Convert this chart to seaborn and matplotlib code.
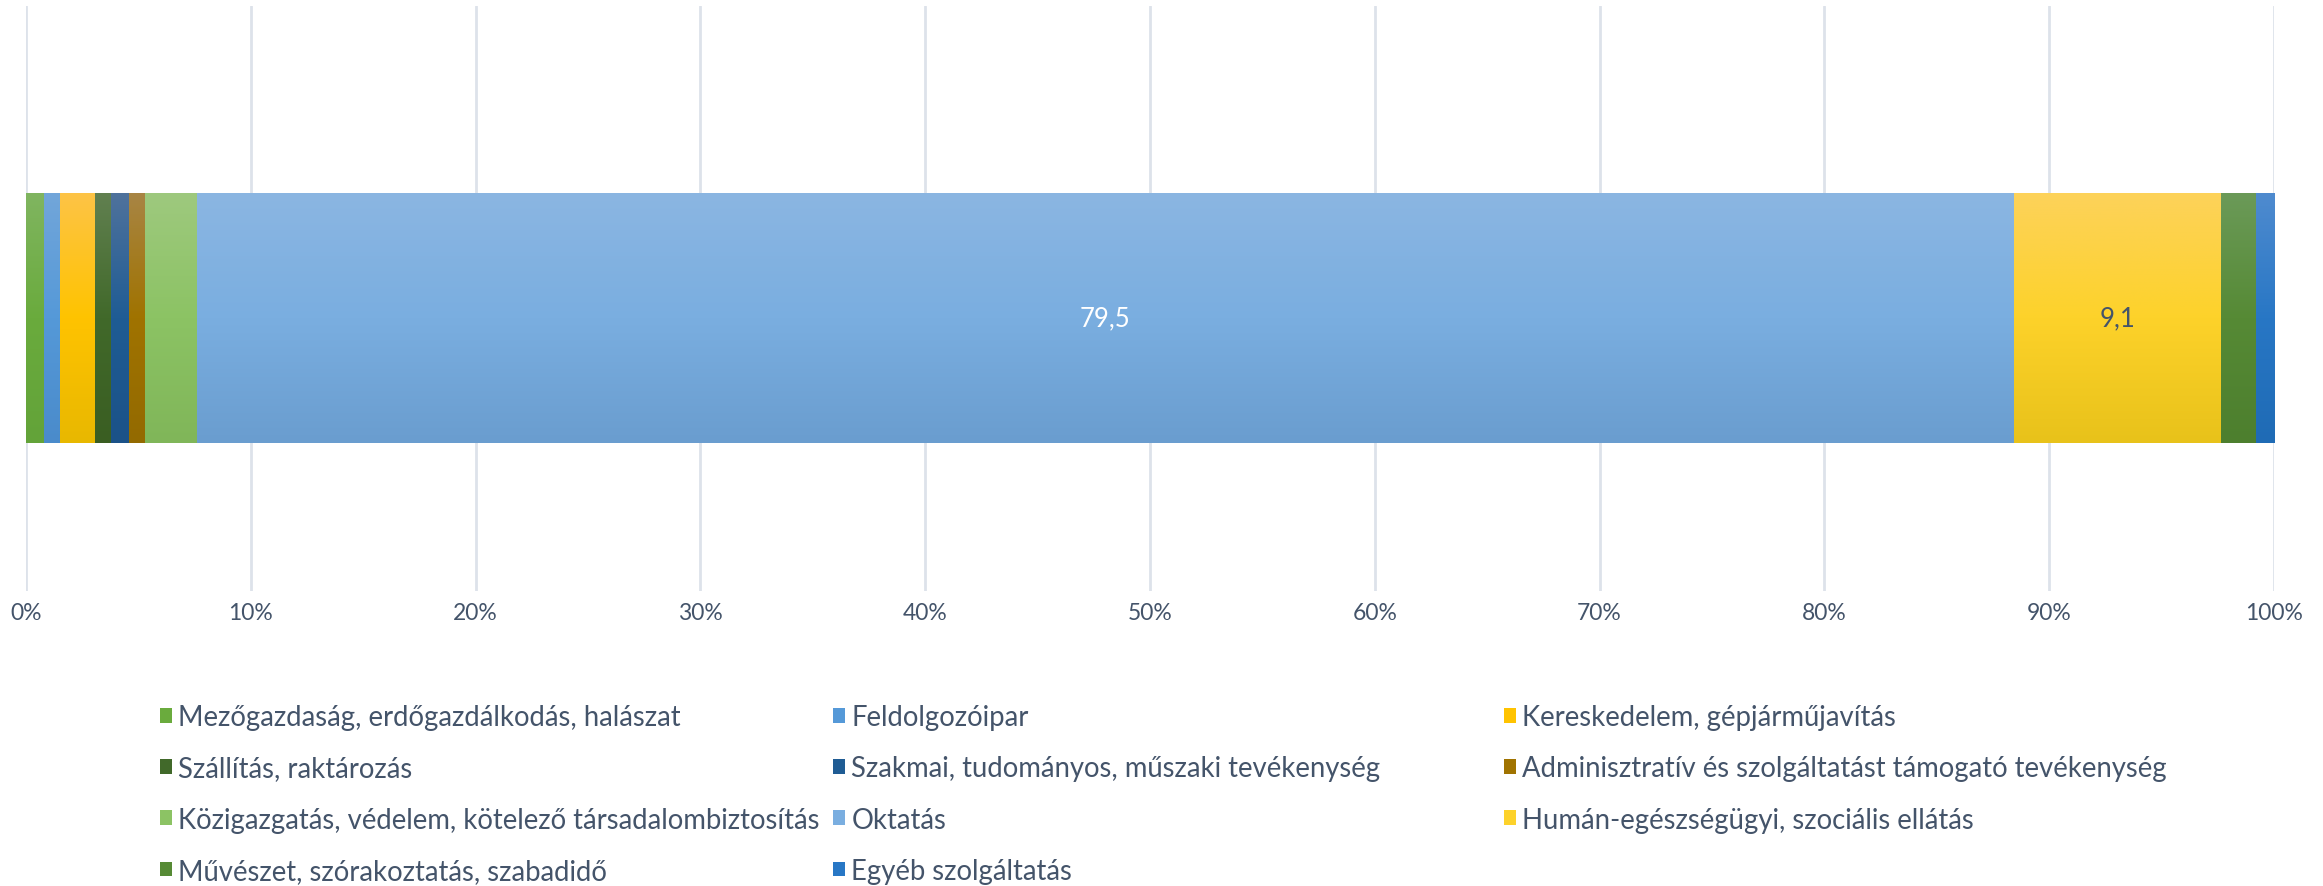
import numpy as np
import pandas as pd
import matplotlib.pyplot as plt
import seaborn as sns
from matplotlib.colors import LinearSegmentedColormap
from matplotlib.patches import Patch

sectors = [
    "Mezőgazdaság, erdőgazdálkodás, halászat",
    "Feldolgozóipar",
    "Kereskedelem, gépjárműjavítás",
    "Szállítás, raktározás",
    "Szakmai, tudományos, műszaki tevékenység",
    "Adminisztratív és szolgáltatást támogató tevékenység",
    "Közigazgatás, védelem, kötelező társadalombiztosítás",
    "Oktatás",
    "Humán-egészségügyi, szociális ellátás",
    "Művészet, szórakoztatás, szabadidő",
    "Egyéb szolgáltatás",
]
values = [0.8, 0.7, 1.5, 0.7, 0.8, 0.7, 2.3, 79.5, 9.1, 1.5, 0.8]
shown = [False, False, False, False, False, False, False, True, True, False, False]

# gradient colours: top, middle, bottom
col_top = ["#80b560", "#72a6da", "#fdc446", "#618050", "#4f729c", "#a88544",
           "#9ec97e", "#8bb6e2", "#fdd35a", "#6b9a58", "#4f8bcf"]
col_mid = ["#6aab3d", "#5599d8", "#ffc300", "#41692a", "#1f5c94", "#a07300",
           "#8cc364", "#7aaee0", "#fdd22a", "#568a35", "#2877c5"]
col_bot = ["#63a339", "#4a8bcb", "#e8b800", "#3a5e22", "#1b5288", "#936a00",
           "#80b659", "#6a9dcf", "#e8c21a", "#4d7f2e", "#1f6bb5"]
label_colors = ["white", "white", "white", "white", "white", "white", "white",
                "white", "#44546a", "white", "white"]

text_color = "#44546a"

df = pd.DataFrame({"sector": sectors, "value": values})
df["share"] = df["value"] / df["value"].sum()
df["left"] = df["share"].cumsum() - df["share"]
df["row"] = ""

sns.set_style("white")
plt.rcParams["font.family"] = ["Lato", "DejaVu Sans"]

fig = plt.figure(figsize=(23.23, 8.87), dpi=100)
ax = fig.add_axes([26 / 2323, 1 - 592 / 887, 2248 / 2323, 585 / 887])

patches = []
for i, r in df.iterrows():
    sns.barplot(x=[r["share"]], y=[r["row"]], left=[r["left"]], orient="h",
                color=col_mid[i], width=0.4, linewidth=0, saturation=1, ax=ax)
    patches.append(ax.patches[-1])

# vertical gradient like the original (light on top, y axis is inverted)
for i, p in enumerate(patches):
    x0, y0 = p.get_x(), p.get_y()
    w, h = p.get_width(), p.get_height()
    cmap = LinearSegmentedColormap.from_list("g", [col_top[i], col_mid[i], col_bot[i]])
    grad = np.linspace(0, 1, 256).reshape(-1, 1)
    im = ax.imshow(grad, cmap=cmap, aspect="auto", extent=(x0, x0 + w, y0 + h, y0),
                   origin="upper", zorder=2)
    im.set_clip_path(p)
    if shown[i]:
        ax.text(x0 + w / 2, y0 + h / 2, f"{values[i]:.1f}".replace(".", ","),
                ha="center", va="center", color=label_colors[i], fontsize=18.5, zorder=3)

ax.set_xlim(0, 1)
ax.set_ylim(0.4368, -0.4992)
ax.set_xticks(np.arange(0, 1.01, 0.1))
ax.set_xticklabels([f"{int(round(t * 100))}%" for t in np.arange(0, 1.01, 0.1)])
ax.tick_params(axis="x", length=0, pad=8, labelsize=16.5, labelcolor=text_color)
ax.set_yticks([])
ax.set_xlabel("")
ax.set_ylabel("")
ax.grid(axis="x", color="#dde2ea", linewidth=2)
ax.set_axisbelow(True)
for s in ax.spines.values():
    s.set_visible(False)

# legend: three equal columns, filled row by row
col_x = [160 / 2323, 833 / 2323, 1504 / 2323]
for c in range(3):
    idx = list(range(c, len(sectors), 3))
    handles = [Patch(facecolor=col_mid[i], edgecolor="none") for i in idx]
    labels = [sectors[i] for i in idx]
    fig.legend(handles, labels, loc="upper left", bbox_to_anchor=(col_x[c], 1 - 705 / 887),
               frameon=False, fontsize=19.8, labelcolor=text_color, handlelength=0.42,
               handleheight=0.45, handletextpad=0.25, labelspacing=0.92,
               borderpad=0, borderaxespad=0)

fig.savefig("out.png", dpi=100)
